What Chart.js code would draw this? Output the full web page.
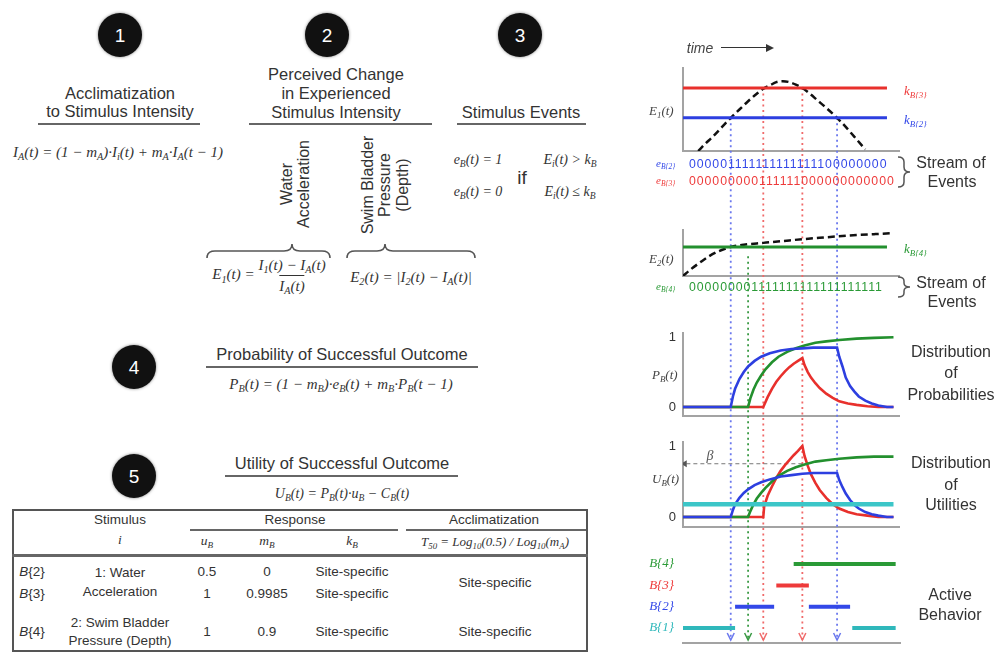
<!DOCTYPE html>
<html lang="en">
<head>
<meta charset="UTF-8">
<title>Stimulus, events, probabilities, utilities and active behavior</title>
<script src="https://cdn.jsdelivr.net/npm/chart.js"></script>
<style>
  body { margin:0; width:1000px; height:653px; position:relative; overflow:hidden; background:#fff;
         font-family:"Liberation Sans", Arial, sans-serif; color:#333; }
  .t { position:absolute; transform:translate(-50%,-50%); white-space:nowrap; line-height:1; }
  .l { position:absolute; transform:translate(0,-50%); white-space:nowrap; line-height:1; }
  .m { font-family:"Liberation Serif", serif; font-style:italic; }
  sub { font-size:.68em; vertical-align:baseline; position:relative; top:.32em; }
  .h { font-size:16.5px; }
  .eq { font-size:15px; }
  .num { width:44px; height:44px; border-radius:50%; background:#111; color:#fff; font-size:19px;
         display:flex; align-items:center; justify-content:center; box-shadow:0 0 3px rgba(0,0,0,.5); }
  .rule { position:absolute; height:0; border-top:2px solid #666; }
  .rot { position:absolute; transform:translate(-50%,-50%) rotate(-90deg); text-align:center; line-height:1.08;
         font-size:16px; white-space:nowrap; }
  .frac { display:inline-flex; flex-direction:column; align-items:center; vertical-align:middle; }
  .frac .den { border-top:1px solid #333; padding-top:3px; margin-top:2px; }
  .tb { font-size:13.5px; }
  .side { font-size:16px; }
  .stream { font-size:12.3px; letter-spacing:0.95px; }
  #panels { position:absolute; left:620px; top:50px; }
</style>
</head>
<body>

<!-- step badges -->
<div class="t num" style="left:120px;top:35px">1</div>
<div class="t num" style="left:327px;top:35px">2</div>
<div class="t num" style="left:520px;top:35px">3</div>
<div class="t num" style="left:134px;top:367px">4</div>
<div class="t num" style="left:134px;top:476px">5</div>

<!-- 1 -->
<div class="t h" style="left:120px;top:93px">Acclimatization</div>
<div class="t h" style="left:120px;top:111px">to Stimulus Intensity</div>
<div class="rule" style="left:38px;top:123px;width:162px"></div>
<div class="t m eq" style="left:118px;top:152px"><i>I</i><sub>A</sub>(<i>t</i>) = (1 − <i>m</i><sub>A</sub>)·<i>I</i><sub><i>i</i></sub>(<i>t</i>) + <i>m</i><sub>A</sub>·<i>I</i><sub>A</sub>(<i>t</i> − 1)</div>

<!-- 2 -->
<div class="t h" style="left:336px;top:74px">Perceived Change</div>
<div class="t h" style="left:336px;top:93px">in Experienced</div>
<div class="t h" style="left:336px;top:112px">Stimulus Intensity</div>
<div class="rule" style="left:249px;top:123px;width:183px"></div>
<div class="rot" style="left:295px;top:184px">Water<br>Acceleration</div>
<div class="rot" style="left:385px;top:185px">Swim Bladder<br>Pressure<br>(Depth)</div>
<svg style="position:absolute;left:0;top:0" width="620" height="300">
  <path d="M207 258 Q207 251 215 251 L284 251 Q292 251 292 244 Q292 251 300 251 L322 251 Q330 251 330 258" fill="none" stroke="#555" stroke-width="1.6"/>
  <path d="M347 258 Q347 251 355 251 L377 251 Q385 251 385 244 Q385 251 393 251 L467 251 Q475 251 475 258" fill="none" stroke="#555" stroke-width="1.6"/>
</svg>
<div class="t m eq" style="left:269px;top:276px"><i>E</i><sub>1</sub>(<i>t</i>) = <span class="frac"><span><i>I</i><sub>1</sub>(<i>t</i>) − <i>I</i><sub>A</sub>(<i>t</i>)</span><span class="den"><i>I</i><sub>A</sub>(<i>t</i>)</span></span></div>
<div class="t m eq" style="left:411px;top:277px"><i>E</i><sub>2</sub>(<i>t</i>) = |<i>I</i><sub>2</sub>(<i>t</i>) − <i>I</i><sub>A</sub>(<i>t</i>)|</div>

<!-- 3 -->
<div class="t h" style="left:521px;top:112px">Stimulus Events</div>
<div class="rule" style="left:457px;top:123px;width:129px"></div>
<div class="t m" style="left:478px;top:160px;font-size:14px"><i>e</i><sub><i>B</i></sub>(<i>t</i>) = 1</div>
<div class="t m" style="left:478px;top:192px;font-size:14px"><i>e</i><sub><i>B</i></sub>(<i>t</i>) = 0</div>
<div class="t" style="left:522px;top:177px;font-size:19px">if</div>
<div class="t m" style="left:570px;top:160px;font-size:14px"><i>E</i><sub><i>i</i></sub>(<i>t</i>) &gt; <i>k</i><sub><i>B</i></sub></div>
<div class="t m" style="left:570px;top:192px;font-size:14px"><i>E</i><sub><i>i</i></sub>(<i>t</i>) ≤ <i>k</i><sub><i>B</i></sub></div>

<!-- 4 -->
<div class="t h" style="left:342px;top:354px">Probability of Successful Outcome</div>
<div class="rule" style="left:206px;top:366px;width:272px"></div>
<div class="t m eq" style="left:341px;top:384px"><i>P</i><sub><i>B</i></sub>(<i>t</i>) = (1 − <i>m</i><sub><i>B</i></sub>)·<i>e</i><sub><i>B</i></sub>(<i>t</i>) + <i>m</i><sub><i>B</i></sub>·<i>P</i><sub><i>B</i></sub>(<i>t</i> − 1)</div>

<!-- 5 -->
<div class="t h" style="left:342px;top:463px">Utility of Successful Outcome</div>
<div class="rule" style="left:225px;top:475px;width:233px"></div>
<div class="t m" style="left:342px;top:494px;font-size:14px"><i>U</i><sub><i>B</i></sub>(<i>t</i>) = <i>P</i><sub><i>B</i></sub>(<i>t</i>)·<i>u</i><sub><i>B</i></sub> − <i>C</i><sub><i>B</i></sub>(<i>t</i>)</div>

<!-- table -->
<div style="position:absolute;left:12px;top:509px;width:572px;height:139px;border:2px solid #555"></div>
<div class="rule" style="left:12px;top:554px;width:576px;border-top-width:3px"></div>
<div class="rule" style="left:190px;top:529px;width:208px"></div>
<div class="rule" style="left:406px;top:529px;width:180px"></div>
<div class="t tb" style="left:120px;top:520px">Stimulus</div>
<div class="t tb m" style="left:120px;top:540px"><i>i</i></div>
<div class="t tb" style="left:295px;top:520px">Response</div>
<div class="t tb" style="left:494px;top:520px">Acclimatization</div>
<div class="t tb m" style="left:207px;top:541px"><i>u</i><sub><i>B</i></sub></div>
<div class="t tb m" style="left:267px;top:541px"><i>m</i><sub><i>B</i></sub></div>
<div class="t tb m" style="left:352px;top:541px"><i>k</i><sub><i>B</i></sub></div>
<div class="t m" style="left:495px;top:541px;font-size:13px"><i>T</i><sub>50</sub> = <i>Log</i><sub>10</sub>(0.5) / <i>Log</i><sub>10</sub>(<i>m</i><sub>A</sub>)</div>

<div class="t tb" style="left:32px;top:572px"><i>B</i>{2}</div>
<div class="t tb" style="left:32px;top:594px"><i>B</i>{3}</div>
<div class="t tb" style="left:32px;top:632px"><i>B</i>{4}</div>
<div class="t tb" style="left:120px;top:573px">1: Water</div>
<div class="t tb" style="left:120px;top:592px">Acceleration</div>
<div class="t tb" style="left:120px;top:623px">2: Swim Bladder</div>
<div class="t tb" style="left:120px;top:641px">Pressure (Depth)</div>
<div class="t tb" style="left:207px;top:572px">0.5</div>
<div class="t tb" style="left:207px;top:594px">1</div>
<div class="t tb" style="left:207px;top:632px">1</div>
<div class="t tb" style="left:267px;top:572px">0</div>
<div class="t tb" style="left:267px;top:594px">0.9985</div>
<div class="t tb" style="left:267px;top:632px">0.9</div>
<div class="t tb" style="left:352px;top:572px">Site-specific</div>
<div class="t tb" style="left:352px;top:594px">Site-specific</div>
<div class="t tb" style="left:352px;top:632px">Site-specific</div>
<div class="t tb" style="left:495px;top:583px">Site-specific</div>
<div class="t tb" style="left:495px;top:632px">Site-specific</div>

<!-- right column -->
<canvas id="panels" width="380" height="613"></canvas>

<div class="t" style="left:700px;top:48px;font-size:14px;font-style:italic;color:#444">time</div>
<div style="position:absolute;left:721px;top:47px;width:46px;border-top:1.5px solid #333"></div>
<div style="position:absolute;left:766px;top:44px;width:0;height:0;border-left:8px solid #333;border-top:4px solid transparent;border-bottom:4px solid transparent"></div>

<div class="l m" style="left:649px;top:110px;font-size:13px;color:#444"><i>E</i><sub>1</sub>(<i>t</i>)</div>
<div class="l m" style="left:649px;top:258px;font-size:13px;color:#444"><i>E</i><sub>2</sub>(<i>t</i>)</div>
<div class="l m" style="left:652px;top:374px;font-size:13px;color:#444"><i>P</i><sub><i>B</i></sub>(<i>t</i>)</div>
<div class="l m" style="left:652px;top:478px;font-size:13px;color:#444"><i>U</i><sub><i>B</i></sub>(<i>t</i>)</div>
<div class="t m" style="left:710px;top:456px;font-size:14px;color:#555"><i>β</i></div>

<div class="l m" style="left:904px;top:90px;font-size:13px;color:#ee3a3a"><i>k</i><sub><i>B</i>{3}</sub></div>
<div class="l m" style="left:904px;top:119px;font-size:13px;color:#3348e8"><i>k</i><sub><i>B</i>{2}</sub></div>
<div class="l m" style="left:904px;top:248px;font-size:13px;color:#2a9a36"><i>k</i><sub><i>B</i>{4}</sub></div>

<div class="l m" style="left:656px;top:163px;font-size:11px;color:#3348e8"><i>e</i><sub><i>B</i>{2}</sub></div>
<div class="l m" style="left:656px;top:180px;font-size:11px;color:#ee3a3a"><i>e</i><sub><i>B</i>{3}</sub></div>
<div class="l m" style="left:656px;top:286px;font-size:11px;color:#2a9a36"><i>e</i><sub><i>B</i>{4}</sub></div>
<div class="l stream" id="streamB2" style="left:689px;top:164px;color:#3348e8"></div>
<div class="l stream" id="streamB3" style="left:689px;top:181px;color:#ee3a3a"></div>
<div class="l stream" id="streamB4" style="left:689px;top:287px;color:#2a9a36"></div>
<svg style="position:absolute;left:890px;top:150px" width="30" height="160">
  <path d="M8 7 Q14 7 14 12 L14 17 Q14 22 20 22 Q14 22 14 27 L14 32 Q14 37 8 37" fill="none" stroke="#555" stroke-width="1.5"/>
  <path d="M8 127 Q14 127 14 131 L14 133 Q14 137 20 137 Q14 137 14 141 L14 143 Q14 147 8 147" fill="none" stroke="#555" stroke-width="1.5"/>
</svg>
<div class="t side" style="left:951px;top:163px">Stream of</div>
<div class="t side" style="left:952px;top:182px">Events</div>
<div class="t side" style="left:951px;top:283px">Stream of</div>
<div class="t side" style="left:952px;top:302px">Events</div>
<div class="t side" style="left:951px;top:352px">Distribution</div>
<div class="t side" style="left:951px;top:373px">of</div>
<div class="t side" style="left:951px;top:395px">Probabilities</div>
<div class="t side" style="left:951px;top:463px">Distribution</div>
<div class="t side" style="left:951px;top:485px">of</div>
<div class="t side" style="left:951px;top:505px">Utilities</div>
<div class="t side" style="left:950px;top:595px">Active</div>
<div class="t side" style="left:950px;top:615px">Behavior</div>

<script>
// ---- data (time in arbitrary units 0..100) ----
const thresholdB3 = 0.76;
const thresholdB2 = 0.40;
const thresholdB4 = 0.63;
const thresholdEnd = 94;

const intensityE1 = [[7,0],[10,0.08],[14,0.18],[18,0.29],[22,0.40],[26,0.50],[30,0.60],[34,0.69],[37,0.75],
  [40,0.79],[43,0.83],[46,0.84],[49,0.83],[52,0.80],[55,0.76],[58,0.70],[62,0.61],[66,0.52],[71,0.40],
  [75,0.29],[79,0.17],[82,0.08],[84,0.02]];
const intensityE2 = [[0,0],[4,0.16],[8,0.30],[12,0.43],[16,0.53],[22,0.63],[28,0.68],[37,0.72],[46,0.76],
  [55,0.80],[63,0.83],[71,0.86],[80,0.89],[88,0.91],[96,0.93]];

const streamB2 = '000001111111111111100000000';
const streamB3 = '000000000111111000000000000';
const streamB4 = '000000001111111111111111111';

const probB2 = [[0,0],[22,0],[23,0.15],[24,0.26],[26,0.40],[28,0.50],[30,0.58],[33,0.66],[36,0.72],[40,0.77],
  [45,0.81],[50,0.83],[55,0.84],[60,0.85],[71,0.85],[72,0.72],[73.5,0.58],[75,0.42],[77,0.30],[79,0.22],
  [81,0.15],[84,0.09],[87,0.05],[90,0.02],[94,0],[97,0]];
const probB4 = [[0,0],[30,0],[31,0.12],[32.5,0.25],[34,0.35],[36,0.45],[38,0.54],[41,0.64],[44,0.72],[48,0.79],
  [52,0.84],[56,0.88],[61,0.92],[66,0.94],[72,0.96],[80,0.98],[88,0.99],[97,1.0]];
const probB3 = [[0,0],[37,0],[39,0.14],[41,0.26],[43,0.36],[45,0.44],[47,0.51],[49,0.57],[51,0.62],[53,0.66],
  [55,0.70],[56,0.60],[57.5,0.50],[59,0.42],[61,0.34],[63,0.27],[66,0.19],[69,0.13],[72,0.08],[76,0.05],
  [80,0.03],[85,0.01],[90,0],[97,0]];

const utilB1 = [[0,0.18],[97,0.18]];
const utilB2 = [[0,0],[22,0],[23,0.10],[24,0.18],[26,0.27],[28,0.34],[30,0.39],[33,0.45],[36,0.49],[40,0.53],
  [45,0.57],[50,0.59],[55,0.61],[60,0.62],[71,0.62],[72,0.52],[73.5,0.42],[75,0.33],[77,0.24],[79,0.17],
  [81,0.12],[84,0.07],[87,0.04],[90,0.02],[94,0],[97,0]];
const utilB4 = [[0,0],[30,0],[31,0.08],[32.5,0.18],[34,0.26],[36,0.34],[38,0.41],[41,0.50],[44,0.58],[48,0.65],
  [52,0.70],[56,0.74],[61,0.78],[66,0.80],[72,0.82],[80,0.84],[88,0.85],[97,0.85]];
const utilB3 = [[0,0],[37,0],[37.4,0.15],[39,0.30],[41,0.43],[43,0.55],[45,0.65],[47,0.73],[49,0.80],[51,0.87],
  [53,0.93],[55,1.0],[56,0.86],[57.5,0.72],[59,0.60],[61,0.48],[63,0.38],[66,0.27],[69,0.18],[72,0.12],
  [76,0.07],[80,0.04],[85,0.02],[90,0],[97,0]];
const betaLevel = 0.75;
const betaFrom = 55;

const behaviorNames = ['B{1}', 'B{2}', 'B{3}', 'B{4}'];
const activeB1 = [[0,24],[78,98]];
const activeB2 = [[24,42],[58,77]];
const activeB3 = [[43,58]];
const activeB4 = [[51,98]];

const eventTimes  = [22, 30, 37, 55, 71];
const eventPanel  = ['yE1', 'yE2', 'yE1', 'yE1', 'yE1'];
const eventLevels = [0.40, 0.43, 0.76, 0.76, 0.40];

// ---- colours ----
const RED = '#e8302c', BLUE = '#2d3fe0', GREEN = '#23902e', CYAN = '#3cc6c8', GREY = '#a3a3a3';
const behaviorColors = ['#2fb8bb', '#3348e8', '#ee3a3a', '#2a9a36'];
const eventColors = ['#6b78ee', '#3a9a44', '#f06a6a', '#f06a6a', '#6b78ee'];

document.getElementById('streamB2').textContent = streamB2;
document.getElementById('streamB3').textContent = streamB3;
document.getElementById('streamB4').textContent = streamB4;

const pts = arr => arr.map(([x, y]) => ({x, y}));
const segs = (list, level) => list.flatMap((s, i) =>
  (i ? [{x: (list[i-1][1] + s[0]) / 2, y: null}] : []).concat([{x: s[0], y: level}, {x: s[1], y: level}]));

function line(data, axis, color, width, extra) {
  return Object.assign({data, yAxisID: axis, borderColor: color, backgroundColor: color,
    borderWidth: width, pointRadius: 0, tension: 0, fill: false, spanGaps: false}, extra || {});
}

const datasets = [
  line([{x:0,y:thresholdB3},{x:thresholdEnd,y:thresholdB3}], 'yE1', RED, 3),
  line([{x:0,y:thresholdB2},{x:thresholdEnd,y:thresholdB2}], 'yE1', BLUE, 3),
  line(pts(intensityE1), 'yE1', '#111', 2.5, {borderDash:[7,4], cubicInterpolationMode:'monotone'}),
  line([{x:0,y:thresholdB4},{x:thresholdEnd,y:thresholdB4}], 'yE2', GREEN, 3),
  line(pts(intensityE2), 'yE2', '#111', 2.5, {borderDash:[7,4], cubicInterpolationMode:'monotone'}),

  line(pts(probB2), 'yP', BLUE, 2.6),
  line(pts(probB4), 'yP', GREEN, 2.6),
  line(pts(probB3), 'yP', RED, 2.6),

  line(pts(utilB1), 'yU', CYAN, 4.5),
  line(pts(utilB2), 'yU', BLUE, 2.6),
  line(pts(utilB4), 'yU', GREEN, 2.6),
  line(pts(utilB3), 'yU', RED, 2.6),
  line([{x:betaFrom,y:betaLevel},{x:0.8,y:betaLevel}], 'yU', '#777', 1,
    {borderDash:[4,3], pointRadius:[0,4], pointStyle:'triangle', pointRotation:-90, pointBackgroundColor:'#555', pointBorderWidth:0}),

  line(segs(activeB4, 4), 'yB', behaviorColors[3], 4),
  line(segs(activeB3, 3), 'yB', behaviorColors[2], 4),
  line(segs(activeB2, 2), 'yB', behaviorColors[1], 4),
  line(segs(activeB1, 1), 'yB', behaviorColors[0], 4)
];

// dotted guides from threshold crossings down to the time axis
const eventLines = {
  id: 'eventLines',
  beforeDatasetsDraw(chart) {
    const {ctx, scales} = chart;
    const bottom = scales.x.top;
    ctx.save();
    eventTimes.forEach((t, i) => {
      const x = scales.x.getPixelForValue(t);
      const y0 = scales[eventPanel[i]].getPixelForValue(eventLevels[i]);
      ctx.strokeStyle = eventColors[i];
      ctx.lineWidth = 1.8;
      ctx.setLineDash([2, 3.5]);
      ctx.beginPath(); ctx.moveTo(x, y0); ctx.lineTo(x, bottom - 3); ctx.stroke();
      ctx.setLineDash([]);
      ctx.lineWidth = 1.5;
      ctx.beginPath(); ctx.moveTo(x - 3.5, bottom - 10); ctx.lineTo(x, bottom - 3); ctx.lineTo(x + 3.5, bottom - 10); ctx.stroke();
    });
    ctx.restore();
  }
};

const fixWidth = s => { s.width = 42; };
const bottomGrid = {drawTicks: false, lineWidth: 2, color: c => c.index === 0 ? GREY : 'rgba(0,0,0,0)'};
const border = {color: GREY, width: 2};
const spacer = (h, w) => ({type: 'linear', display: false, position: 'left', stack: 'panels',
  stackWeight: h, weight: w, afterFit: fixWidth});
const tickFont = {family: 'Liberation Sans', size: 13};

new Chart(document.getElementById('panels'), {
  type: 'line',
  data: {datasets},
  options: {
    responsive: false,
    animation: false,
    devicePixelRatio: 1,
    events: [],
    layout: {padding: {left: 21, right: 100, top: 18, bottom: 20}},
    plugins: {legend: {display: false}, tooltip: {enabled: false}},
    scales: {
      x: {type: 'linear', min: 0, max: 100, position: 'bottom',
          ticks: {display: false}, grid: {display: false, drawTicks: false}, border},
      yE1: {type: 'linear', position: 'left', stack: 'panels', stackWeight: 83, weight: 9, min: 0, max: 1,
            afterBuildTicks: s => { s.ticks = [{value: 0}]; }, afterFit: fixWidth,
            ticks: {display: false}, grid: bottomGrid, border},
      gap1: spacer(79, 8),
      yE2: {type: 'linear', position: 'left', stack: 'panels', stackWeight: 46, weight: 7, min: 0, max: 1,
            afterBuildTicks: s => { s.ticks = [{value: 0}]; }, afterFit: fixWidth,
            ticks: {display: false}, grid: bottomGrid, border},
      gap2: spacer(57, 6),
      yP: {type: 'linear', position: 'left', stack: 'panels', stackWeight: 83, weight: 5, min: -0.13, max: 1.06,
           afterBuildTicks: s => { s.ticks = [{value: s.min}, {value: 0}, {value: 1}]; }, afterFit: fixWidth,
           ticks: {padding: 7, autoSkip: false, color: '#333', font: tickFont,
                   callback: (v, i) => i === 0 ? '' : String(v)},
           grid: bottomGrid, border},
      gap3: spacer(26, 4),
      yU: {type: 'linear', position: 'left', stack: 'panels', stackWeight: 85, weight: 3, min: -0.14, max: 1.056,
           afterBuildTicks: s => { s.ticks = [{value: s.min}, {value: 0}, {value: 1}]; }, afterFit: fixWidth,
           ticks: {padding: 7, autoSkip: false, color: '#333', font: tickFont,
                   callback: (v, i) => i === 0 ? '' : String(v)},
           grid: bottomGrid, border},
      gap4: spacer(23, 2),
      yB: {type: 'linear', position: 'left', stack: 'panels', stackWeight: 93, weight: 1, min: 0.3, max: 4.66,
           afterBuildTicks: s => { s.ticks = [1, 2, 3, 4].map(value => ({value})); }, afterFit: fixWidth,
           ticks: {padding: 9, autoSkip: false, color: c => behaviorColors[c.index],
                   font: {family: 'Liberation Serif', style: 'italic', size: 13},
                   callback: (v, i) => behaviorNames[i]},
           grid: {display: false, drawTicks: false}, border: {display: false}}
    }
  },
  plugins: [eventLines]
});
</script>
</body>
</html>
